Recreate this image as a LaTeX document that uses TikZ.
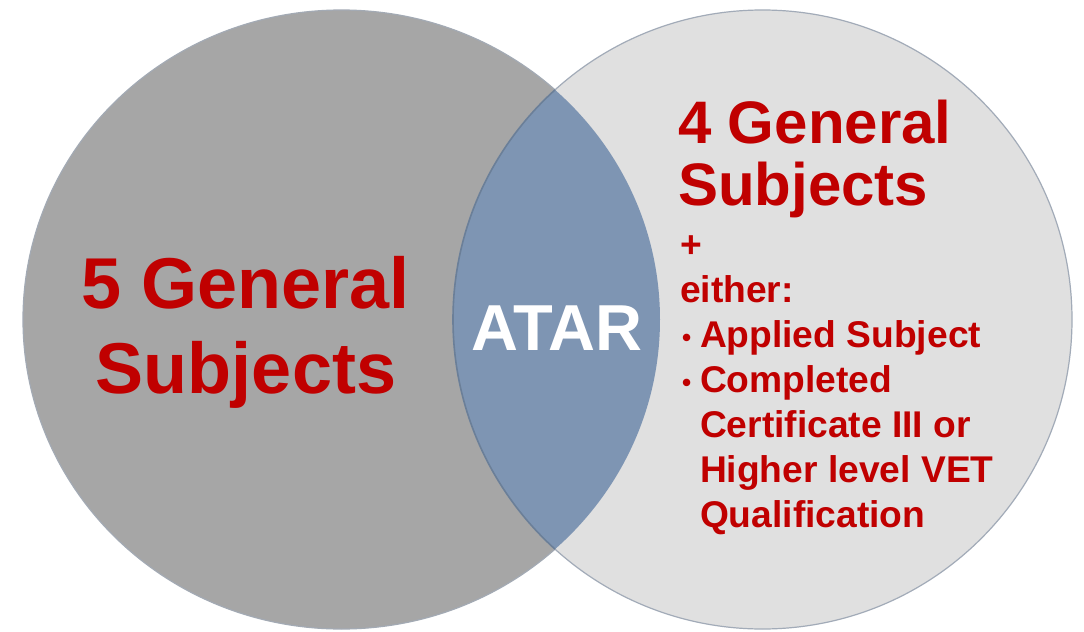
\documentclass[tikz,border=0pt]{standalone}
\usepackage{fontspec}
\setmainfont{Liberation Sans}
\usepackage{tikz}
\usetikzlibrary{calc,positioning}
\definecolor{setgrey}{HTML}{A6A6A6}
\definecolor{setlight}{HTML}{E0E0E0}
\definecolor{setedge}{HTML}{A2ABB8}
\definecolor{lensblue}{HTML}{7E95B3}
\definecolor{labelred}{HTML}{C00000}
\newdimen\lrx
\newdimen\rad
\lrx=159.25pt
\rad=154.75pt
\tikzstyle{leftset}=[
  fill=setgrey,
  draw=setedge!80!setgrey,
  line width=.6pt,
]
\tikzstyle{rightset}=[
  fill=setlight,
  draw=setedge,
  line width=.6pt,
]
\tikzstyle{lens}=[
  fill=lensblue,
  draw=lensblue!85!black,
  line width=.8pt,
]
\tikzstyle{label}=[
  color=labelred,
  inner sep=0pt,
  outer sep=0pt,
]
\tikzstyle{bigtext}=[
  label,
  font={\fontsize{36}{42}\selectfont\bfseries},
  anchor=base,
]
\tikzstyle{headtext}=[
  label,
  font={\fontsize{30}{31}\selectfont\bfseries},
  anchor=base west,
]
\tikzstyle{smalltext}=[
  label,
  font={\fontsize{18.6}{22.5}\selectfont\bfseries},
  anchor=base west,
]
\tikzstyle{centretext}=[
  color=white,
  inner sep=0pt,
  font={\fontsize{32.5}{36}\selectfont\bfseries},
  anchor=base,
]
\newcommand{\bul}{\makebox[9pt][l]{\raisebox{.5pt}{\fontsize{13}{13}\selectfont •}}}

\begin{document}
\begin{tikzpicture}[x=0.5pt,y=-0.5pt]
  \useasboundingbox (0,0) rectangle (1084,632);
  \fill [white] (0,0) rectangle (1084,632);
  %% the two sets and their overlap
  \coordinate (L) at (341.5,319.5);
  \coordinate (R) at (762.5,319.5);
  \draw [leftset] (L) ellipse [x radius=\lrx, y radius=\rad];
  \draw [rightset] (R) circle [radius=\rad];
  \begin{scope}
    \clip (L) ellipse [x radius=\lrx, y radius=\rad];
    \draw [lens] (R) circle [radius=\rad];
  \end{scope}
  %% left set
  \node (fiveA) [bigtext] at (246,308) {5 General};
  \node (fiveB) [bigtext] at ($(fiveA.base)+(0,85)$) {Subjects};
  %% overlap
  \node (atar) [centretext] at (557,350) {ATAR};
  %% right set
  \node (fourA) [headtext] at (678,143) {4 General};
  \node (fourB) [headtext] at ($(fourA.base west)+(0,62)$) {Subjects};
  \node (plus) [smalltext] at (680,257) {+};
  \node (either) [smalltext] at ($(plus.base west)+(0,45)$) {either:};
  \node (applied) [smalltext] at ($(either.base west)+(2,45)$) {\bul Applied Subject};
  \node (compl) [smalltext] at ($(applied.base west)+(0,45)$) {\bul Completed};
  \node (cert) [smalltext] at ($(compl.base west)+(18,45)$) {Certificate III or};
  \node (higher) [smalltext] at ($(cert.base west)+(0,45)$) {Higher level VET};
  \node (qual) [smalltext] at ($(higher.base west)+(0,45)$) {Qualification};
\end{tikzpicture}
\end{document}
